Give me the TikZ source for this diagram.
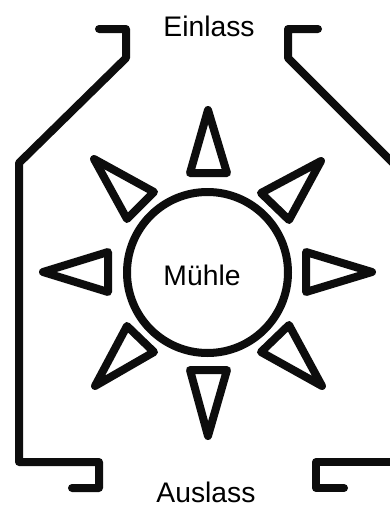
\documentclass[tikz,border=0pt]{standalone}
\usepackage{fontspec}
\setmainfont{Liberation Sans}
\tikzset{
  wall/.style={draw=black!95,line width=8pt,line cap=round,line join=round},
  tooth/.style={draw=black!95,line width=8pt,line join=round},
  lbl/.style={font=\fontsize{28.3pt}{30pt}\selectfont,text=black,anchor=base,inner sep=0pt,outer sep=0pt}
}
\begin{document}
\begin{tikzpicture}[x=1pt,y=-1pt]
\useasboundingbox (0,0) rectangle (390,506);
\clip (0,0) rectangle (390,506);
\fill[white] (0,0) rectangle (390,506);
% outer walls
\draw[wall] (99,29) -- (126,29) -- (126,58) -- (19,163) -- (19,462) -- (99,462) -- (99,488) -- (72,488);
\draw[wall] (318,29) -- (288,29) -- (288,58) -- (400,170);
\draw[wall] (400,462) -- (316,462) -- (316,488) -- (344,488);
% mill
\node[circle,draw=black!95,line width=8pt,minimum size=161pt,inner sep=0pt] (muehle) at (207.5,272.5) {};
% teeth
\draw[tooth] (208,110) -- (227,173) -- (190,173) -- cycle;
\draw[tooth] (208,436) -- (227,370) -- (190,370) -- cycle;
\draw[tooth] (43,272) -- (108,252) -- (108,292) -- cycle;
\draw[tooth] (372,272) -- (306,252) -- (306,292) -- cycle;
\draw[tooth] (94,159) -- (154,192) -- (127,219) -- cycle;
\draw[tooth] (321,161) -- (261,193) -- (289,220) -- cycle;
\draw[tooth] (95,386) -- (127,326) -- (154,352) -- cycle;
\draw[tooth] (322,386) -- (261,352) -- (289,325) -- cycle;
% labels
\node[lbl] (einlass) at (209,36) {Einlass};
\node[lbl] (muehletext) at (202,285) {Mühle};
\node[lbl] (auslass) at (206,502) {Auslass};
\end{tikzpicture}
\end{document}
